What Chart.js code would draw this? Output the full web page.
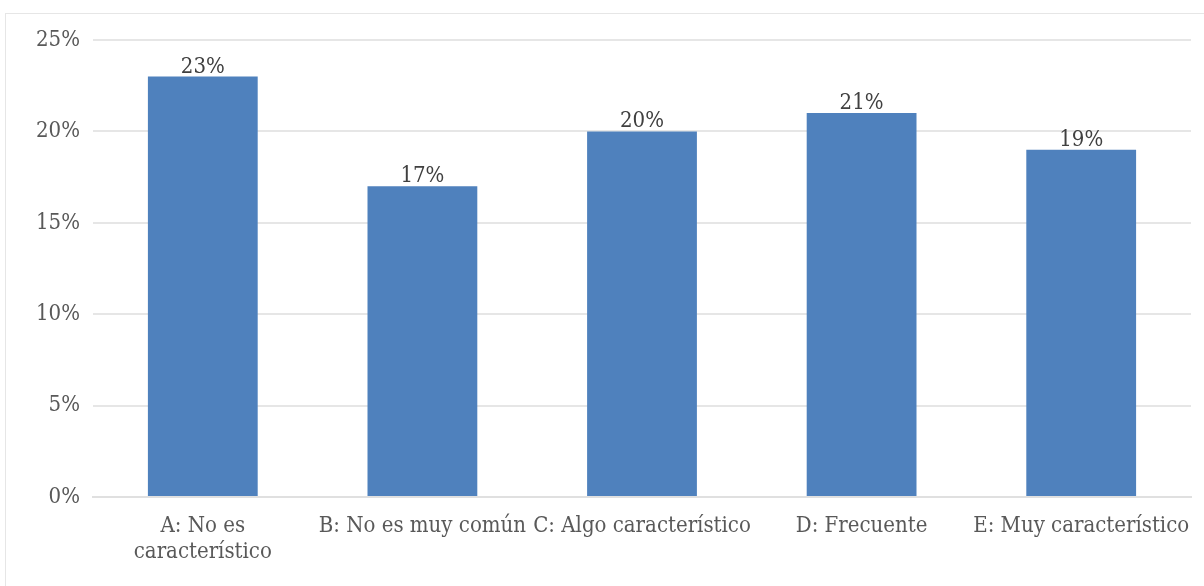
<!DOCTYPE html>
<html>
<head>
<meta charset="utf-8">
<script src="https://cdn.jsdelivr.net/npm/chart.js@4"></script>
<style>
  html, body { margin: 0; padding: 0; background: #fff; overflow: hidden; }
  #wrap { position: relative; width: 1204px; height: 586px; }
  #frame { position: absolute; left: 5px; top: 13px; width: 1300px; height: 700px;
           border-left: 1px solid #e6e6e6; border-top: 1px solid #e6e6e6; }
  canvas { position: absolute; left: 0; top: 0; }
</style>
</head>
<body>
<div id="wrap">
  <div id="frame"></div>
  <canvas id="chart" width="1204" height="586"></canvas>
</div>
<script>
// === Datos ===
const categories = [
  ["A: No es", "característico"],
  "B: No es muy común",
  "C: Algo característico",
  "D: Frecuente",
  "E: Muy característico"
];
const values = [23, 17, 20, 21, 19];
const yTicks = [0, 5, 10, 15, 20, 25];

const FONT = "'DejaVu Serif Condensed', 'DejaVu Serif', serif";
const TEXT = "#595959";

// Etiquetas sobre las barras
const barLabels = {
  id: "barLabels",
  afterDatasetsDraw(chart) {
    const ctx = chart.ctx;
    const meta = chart.getDatasetMeta(0);
    ctx.save();
    ctx.font = "22px " + FONT;
    ctx.fillStyle = "#404040";
    ctx.textAlign = "center";
    ctx.textBaseline = "alphabetic";
    meta.data.forEach((bar, i) => {
      ctx.fillText(values[i] + "%", bar.x, bar.y - 4);
    });
    ctx.restore();
  }
};

new Chart(document.getElementById("chart"), {
  type: "bar",
  data: {
    labels: categories,
    datasets: [{
      data: values,
      backgroundColor: "#4F81BD",
      borderWidth: 0,
      categoryPercentage: 1,
      barPercentage: 0.5
    }]
  },
  options: {
    responsive: false,
    animation: false,
    layout: { padding: { left: 0, right: 13, top: 40, bottom: 0 } },
    plugins: { legend: { display: false }, tooltip: { enabled: false } },
    scales: {
      x: {
        grid: { display: false, drawTicks: false },
        border: { display: true, color: "#e0e0e0", width: 2 },
        ticks: { color: TEXT, font: { family: FONT, size: 22, lineHeight: 1.2 }, padding: 16, maxRotation: 0, autoSkip: false },
        afterFit(scale) {
          scale.height = 586 - 497;
          scale.paddingLeft = 0;
          scale.paddingRight = 0;
        }
      },
      y: {
        min: 0,
        max: 25,
        afterBuildTicks(scale) { scale.ticks = yTicks.map(v => ({ value: v })); },
        grid: { color: "#e6e6e6", lineWidth: 2, drawTicks: false },
        border: { display: false },
        ticks: { color: TEXT, font: { family: FONT, size: 22 }, padding: 13, callback: v => v + "%" },
        afterFit(scale) { scale.width = 93; }
      }
    }
  },
  plugins: [barLabels]
});
</script>
</body>
</html>
